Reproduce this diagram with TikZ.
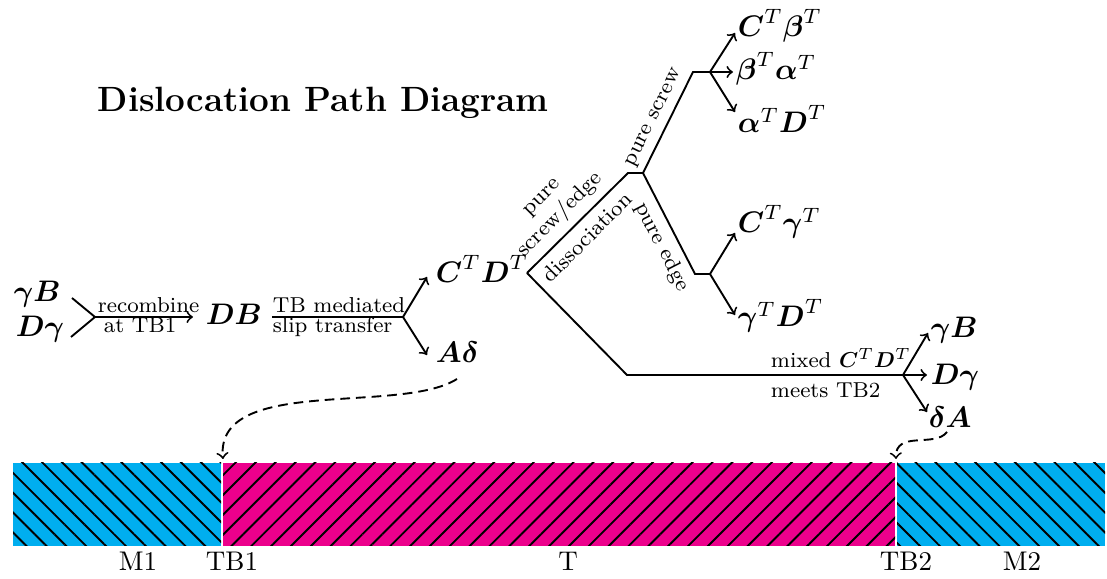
\RequirePackage{fix-cm}
\documentclass[tikz,border=0pt]{standalone}
\usepackage{amsmath}
\usepackage{fontspec}
\usetikzlibrary{calc,patterns.meta}
\definecolor{matrixblue}{RGB}{0,174,239}
\definecolor{twinpink}{RGB}{236,0,140}
\newcommand{\bsym}[1]{\boldsymbol{#1}}
\begin{document}
\begin{tikzpicture}[x=0.3704pt,y=-0.3704pt,
  line width=0.7pt,
  math/.style={inner sep=0pt, anchor=base west, font=\fontsize{11}{13}\selectfont},
  lbl/.style={inner sep=0pt, anchor=base west, font=\footnotesize},
  rlbl/.style={inner sep=0pt, anchor=center, font=\footnotesize},
  arr/.style={->},
  curve/.style={->, dash pattern=on 3.6pt off 2.2pt},
  tag/.style={inner sep=0pt, anchor=base west},
  matrixgrain/.style={fill=matrixblue, postaction={pattern={Lines[angle=-45,distance=5.2pt,line width=0.7pt]}}},
  twingrain/.style={fill=twinpink, postaction={pattern={Lines[angle=45,distance=5.2pt,line width=0.7pt]}}}
]
\useasboundingbox (0,0) rectangle (1107,579);

% title
\node[tag, font=\fontsize{13}{15}\selectfont\bfseries] (title) at (97,112) {Dislocation Path Diagram};

% dislocation species
\node[math] (gB)  at (13,302)  {$\bsym{\gamma B}$};
\node[math] (Dg)  at (15,337)  {$\bsym{D\gamma}$};
\node[math] (DB)  at (205,325) {$\bsym{DB}$};
\node[math] (CD)  at (435,283) {$\bsym{C}^T\bsym{D}^T$};
\node[math] (Ad)  at (435,363) {$\bsym{A\delta}$};
\node[math] (cb)  at (737,37)  {$\bsym{C}^T\bsym{\beta}^T$};
\node[math] (ba)  at (735,80)  {$\bsym{\beta}^T\bsym{\alpha}^T$};
\node[math] (ad)  at (737,133) {$\bsym{\alpha}^T\bsym{D}^T$};
\node[math] (cg)  at (737,233) {$\bsym{C}^T\bsym{\gamma}^T$};
\node[math] (gd)  at (737,327) {$\bsym{\gamma}^T\bsym{D}^T$};
\node[math] (gB2) at (930,338) {$\bsym{\gamma B}$};
\node[math] (Dg2) at (930,385) {$\bsym{D\gamma}$};
\node[math] (dA)  at (928,428) {$\bsym{\delta A}$};

% branch points
\coordinate (a1) at (72,298);
\coordinate (a2) at (71,337);
\coordinate (j0) at (95,317);
\coordinate (t0) at (272,317);
\coordinate (j1) at (403,317);
\coordinate (b0) at (527,273);
\coordinate (k1) at (628,173);
\coordinate (k2) at (643,173);
\coordinate (s1) at (693,72);
\coordinate (s2) at (710,72);
\coordinate (e1) at (695,274);
\coordinate (e2) at (710,274);
\coordinate (m1) at (627,375);
\coordinate (m2) at (903,375);
\coordinate (tb1) at (223,459);
\coordinate (tb2) at (896,459);

% recombination at TB1
\draw (a1) -- (j0) -- (a2);
\draw[arr] (j0) -- ($(DB.base west)+(-12,-8)$);
\node[lbl] (l1) at (97,313)  {recombine};
\node[lbl] (l2) at (103,333) {at TB1};

% slip transfer
\draw (t0) -- (j1);
\node[lbl] (l3) at (272,313) {TB mediated};
\node[lbl] (l4) at (272,333) {slip transfer};
\draw[arr] (j1) -- ($(CD.base west)+(-8,-6)$);
\draw[arr] (j1) -- ($(Ad.base west)+(-8,-8)$);

% dissociation branches
\draw (b0) -- (k1) -- (k2) -- (s1) -- (s2);
\draw (k2) -- (e1) -- (e2);
\draw (b0) -- (m1) -- (m2);
\node[rlbl, rotate=45, align=center] (l7) at (553,208) {pure\\screw/edge};
\node[rlbl, rotate=45] (l8) at (587,237) {dissociation};
\node[rlbl, rotate=63.7] (l9) at (655,118) {pure screw};
\node[rlbl, rotate=-62.8] (l10) at (662,247) {pure edge};

% pure screw products
\draw[arr] (s2) -- ($(cb.base west)+(-2,-4)$);
\draw[arr] (s2) -- ($(ba.base west)+(-2,-8)$);
\draw[arr] (s2) -- ($(ad.base west)+(-2,-21)$);

% pure edge products
\draw[arr] (e2) -- ($(cg.base west)+(-2,0)$);
\draw[arr] (e2) -- ($(gd.base west)+(-2,-12)$);

% mixed dislocation at TB2
\node[lbl] (l5) at (770,368) {mixed $\bsym{C}^T\bsym{D}^T$};
\node[lbl] (l6) at (770,398) {meets TB2};
\draw[arr] (m2) -- ($(gB2.base west)+(-2,-5)$);
\draw[arr] (m2) -- ($(Dg2.base west)+(-3,-10)$);
\draw[arr] (m2) -- ($(dA.base west)+(-1,-16)$);

% residual dislocations travelling to the boundaries
\draw[curve] ($(Ad.base west)+(22,16)$) .. controls (400,415) and (215,375) .. (tb1);
\draw[curve] ($(dA.base west)+(19,4)$) .. controls (935,448) and (895,430) .. (tb2);

% grains
\path[matrixgrain] (13,463) rectangle (221,546);
\path[twingrain] (223,463) rectangle (895,546);
\path[matrixgrain] (897,463) rectangle (1105,546);

% grain labels
\node[tag] (lM1) at (118,571) {M1};
\node[tag] (lTB1) at (205,571) {TB1};
\node[tag, anchor=base] (lT) at (568,571) {T};
\node[tag] (lTB2) at (879,571) {TB2};
\node[tag] (lM2) at (1002,571) {M2};
\end{tikzpicture}
\end{document}
